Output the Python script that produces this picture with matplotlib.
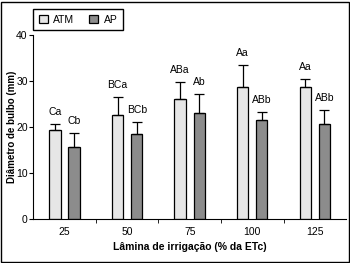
import matplotlib
matplotlib.use('Agg')
import matplotlib.pyplot as plt
import numpy as np
from matplotlib.patches import Rectangle

plt.rcParams['font.family'] = ['Liberation Sans Narrow', 'Liberation Sans', 'DejaVu Sans']

laminas = ['25', '50', '75', '100', '125']
atm = [19.3, 22.6, 26.1, 28.8, 28.8]
atm_err = [1.4, 3.9, 3.6, 4.6, 1.6]
ap = [15.6, 18.5, 23.0, 21.5, 20.7]
ap_err = [3.2, 2.7, 4.1, 1.7, 3.1]
atm_txt = ['Ca', 'BCa', 'ABa', 'Aa', 'Aa']
ap_txt = ['Cb', 'BCb', 'Ab', 'ABb', 'ABb']

fs = 7.5

fig = plt.figure(figsize=(3.5, 2.63), dpi=100)
fig.patches.append(Rectangle((0.002, 0.002), 0.994, 0.992, transform=fig.transFigure,
                             fill=False, edgecolor='black', linewidth=1))
ax = fig.add_axes([0.095, 0.167, 0.894, 0.700])

x = np.arange(len(laminas))
w = 0.18
off = 0.153
err_kw = dict(ecolor='black', elinewidth=0.9, capsize=3.3, capthick=0.9)
b1 = ax.bar(x - off, atm, w, color='#e6e6e6', edgecolor='black', linewidth=0.9,
            yerr=[np.zeros(5), atm_err], error_kw=err_kw, label='ATM')
b2 = ax.bar(x + off, ap, w, color='#8c8c8c', edgecolor='black', linewidth=0.9,
            yerr=[np.zeros(5), ap_err], error_kw=err_kw, label='AP')

for i in range(len(laminas)):
    ax.annotate(atm_txt[i], (x[i] - off, atm[i] + atm_err[i]), xytext=(0, 5),
                textcoords='offset points', ha='center', va='bottom', fontsize=fs)
    ax.annotate(ap_txt[i], (x[i] + off, ap[i] + ap_err[i]), xytext=(0, 5),
                textcoords='offset points', ha='center', va='bottom', fontsize=fs)

ax.set_xlim(-0.5, 4.5)
ax.set_ylim(0, 40)
ax.set_yticks([0, 10, 20, 30, 40])
ax.set_xticks(x)
ax.set_xticklabels(laminas)
ax.set_xticks(np.arange(0.5, 4.5, 1), minor=True)
ax.tick_params(axis='x', which='major', length=0, labelsize=fs, pad=6)
ax.tick_params(axis='x', which='minor', length=3, direction='out')
ax.tick_params(axis='y', length=3, labelsize=fs, pad=1)
ax.spines['top'].set_visible(False)
ax.spines['right'].set_visible(False)
ax.set_ylabel('Diâmetro de bulbo (mm)', fontsize=7, fontweight='bold')
ax.yaxis.set_label_coords(-0.052, 0.5)
ax.set_xlabel('Lâmina de irrigação (% da ETc)', fontsize=fs, fontweight='bold', labelpad=3)

fig.legend(handles=[b1, b2], labels=['ATM', 'AP'], loc='upper left',
           bbox_to_anchor=(0.094, 0.966), borderaxespad=0, ncol=2, frameon=True,
           fancybox=False, edgecolor='black', fontsize=fs, handlelength=0.9,
           handleheight=0.9, handletextpad=0.5, columnspacing=1.4, borderpad=0.55,
           framealpha=1)

fig.savefig('out.png', dpi=100)
